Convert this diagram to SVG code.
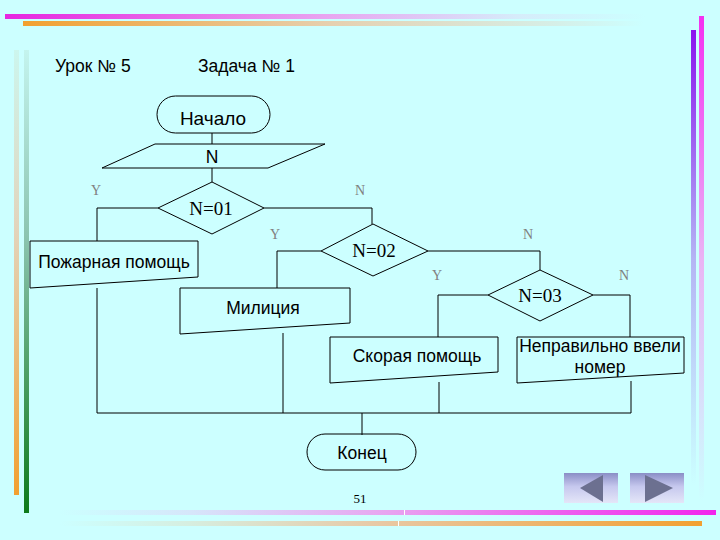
<svg xmlns="http://www.w3.org/2000/svg" width="720" height="540" viewBox="0 0 720 540">
<defs>
<linearGradient id="gTopM" x1="0" y1="0" x2="1" y2="0"><stop offset="0" stop-color="#e626e0"/><stop offset="0.5" stop-color="#e8a4f0"/><stop offset="0.8" stop-color="#d6ecfa"/><stop offset="1" stop-color="#ccffff"/></linearGradient>
<linearGradient id="gTopO" x1="0" y1="0" x2="1" y2="0"><stop offset="0" stop-color="#f2a030"/><stop offset="0.5" stop-color="#e6d0b0"/><stop offset="0.85" stop-color="#d6eee6"/><stop offset="1" stop-color="#ccffff"/></linearGradient>
<linearGradient id="gBotM" x1="1" y1="0" x2="0" y2="0"><stop offset="0" stop-color="#f224ec"/><stop offset="0.5" stop-color="#e8a4f0"/><stop offset="0.8" stop-color="#d6e6fa"/><stop offset="1" stop-color="#ccffff"/></linearGradient>
<linearGradient id="gBotO" x1="1" y1="0" x2="0" y2="0"><stop offset="0" stop-color="#f2a030"/><stop offset="0.5" stop-color="#e8c8a4"/><stop offset="0.8" stop-color="#d6eee0"/><stop offset="1" stop-color="#ccffff"/></linearGradient>
<linearGradient id="gRP" x1="0" y1="0" x2="0" y2="1"><stop offset="0" stop-color="#8a14ee"/><stop offset="0.5" stop-color="#b4b4f4"/><stop offset="1" stop-color="#ccffff"/></linearGradient>
<linearGradient id="gRM" x1="0" y1="0" x2="0" y2="1"><stop offset="0" stop-color="#f430f0"/><stop offset="0.5" stop-color="#eab4f4"/><stop offset="1" stop-color="#ccffff"/></linearGradient>
<linearGradient id="gLO" x1="0" y1="1" x2="0" y2="0"><stop offset="0" stop-color="#f2a030"/><stop offset="0.6" stop-color="#e2d4bc"/><stop offset="1" stop-color="#ccf6ee"/></linearGradient>
<linearGradient id="gLG" x1="0" y1="1" x2="0" y2="0"><stop offset="0" stop-color="#0e7a1a"/><stop offset="0.6" stop-color="#8cc4b0"/><stop offset="1" stop-color="#c4f4ee"/></linearGradient>
<linearGradient id="gBtn" x1="0" y1="0" x2="0" y2="1"><stop offset="0" stop-color="#8a8ec6"/><stop offset="0.45" stop-color="#c6c8ee"/><stop offset="1" stop-color="#e4e6f8"/></linearGradient>
<style>
.sh{fill:none;stroke:#000;stroke-width:1}
.ln{fill:none;stroke:#000;stroke-width:1}
.t{font-family:"Liberation Sans",Arial,sans-serif;font-size:17.5px;fill:#000;text-anchor:middle}
.ts{font-family:"Liberation Serif","Times New Roman",serif;font-size:19px;fill:#000;text-anchor:middle}
.yn{font-family:"Liberation Serif","Times New Roman",serif;font-size:14px;fill:#808080;text-anchor:middle}
.tri{fill:#6c7090}
</style>
</defs>
<rect width="720" height="540" fill="#ccffff"/>
<g id="decor">
<rect x="5" y="14" width="640" height="5" fill="url(#gTopM)"/>
<rect x="23" y="21" width="620" height="5" fill="url(#gTopO)"/>
<rect x="691" y="30" width="5" height="455" fill="url(#gRP)"/>
<rect x="699" y="16" width="5" height="485" fill="url(#gRM)"/>
<rect x="14" y="50" width="5" height="445" fill="url(#gLO)"/>
<rect x="24" y="50" width="5" height="463" fill="url(#gLG)"/>
<rect x="60" y="510" width="656" height="5" fill="url(#gBotM)"/>
<rect x="60" y="521" width="642" height="5" fill="url(#gBotO)"/>
<rect x="404" y="510" width="1" height="5" fill="#ffffff"/>
<rect x="398" y="521" width="1" height="5" fill="#ffffff"/>
</g>
<g id="titles">
<text x="55" y="72" style="font-family:'Liberation Sans',Arial,sans-serif;font-size:17.5px">Урок № 5</text>
<text x="198" y="72" style="font-family:'Liberation Sans',Arial,sans-serif;font-size:17.5px">Задача № 1</text>
</g>
<g id="connectors">
<path class="ln" d="M212 133V144M212 168V182"/>
<path class="ln" d="M158 208H97V241M264 208H372V224"/>
<path class="ln" d="M321 251H277V288M428 251H540V270"/>
<path class="ln" d="M488 295H438V337M593 295H630V337"/>
<path class="ln" d="M97 288V413M283 333V413M439 382V413M631 381V413M97 413H631M362 413V435"/>
</g>
<g id="labels">
<text class="yn" x="96" y="195">Y</text>
<text class="yn" x="360" y="195">N</text>
<text class="yn" x="275" y="239">Y</text>
<text class="yn" x="528" y="239">N</text>
<text class="yn" x="437" y="280">Y</text>
<text class="yn" x="624" y="280">N</text>
</g>
<g id="start">
<rect class="sh" x="157" y="96" width="113" height="37" rx="18.5"/>
<text class="t" x="213" y="125" style="font-size:19px">Начало</text>
</g>
<g id="input">
<path class="sh" d="M155 144H325L268 168H102Z"/>
<text class="t" x="212" y="163">N</text>
</g>
<g id="d1">
<path class="sh" d="M212 182L264 208L212 234L158 208Z"/>
<text class="ts" x="211" y="215">N=01</text>
</g>
<g id="d2">
<path class="sh" d="M373 224L428 251L373 276L321 251Z"/>
<text class="ts" x="374" y="257">N=02</text>
</g>
<g id="d3">
<path class="sh" d="M540 270L593 295L540 321L488 295Z"/>
<text class="ts" x="540" y="302">N=03</text>
</g>
<g id="fire">
<path class="sh" d="M30 241H198V277L30 288Z"/>
<text class="t" x="114" y="268">Пожарная помощь</text>
</g>
<g id="police">
<path class="sh" d="M180 288H350V323L180 334Z"/>
<text class="t" x="263" y="314">Милиция</text>
</g>
<g id="ambulance">
<path class="sh" d="M330 337H498V372L330 383Z"/>
<text class="t" x="417" y="362">Скорая помощь</text>
</g>
<g id="wrong">
<path class="sh" d="M517 337H684V373L517 383Z"/>
<text class="t" x="600" y="352">Неправильно ввели</text>
<text class="t" x="600" y="373">номер</text>
</g>
<g id="end">
<rect class="sh" x="307" y="434" width="109" height="36" rx="18"/>
<text class="t" x="362" y="459">Конец</text>
</g>
<g id="footer">
<text x="360" y="503" style="font-family:'Liberation Serif','Times New Roman',serif;font-size:13px;text-anchor:middle">51</text>
</g>
<g id="nav">
<rect x="564" y="473" width="54" height="30" fill="url(#gBtn)"/>
<path class="tri" d="M580 488L603 475V502Z"/>
<rect x="630" y="473" width="54" height="30" fill="url(#gBtn)"/>
<path class="tri" d="M673 488L645 475V502Z"/>
</g>
</svg>
